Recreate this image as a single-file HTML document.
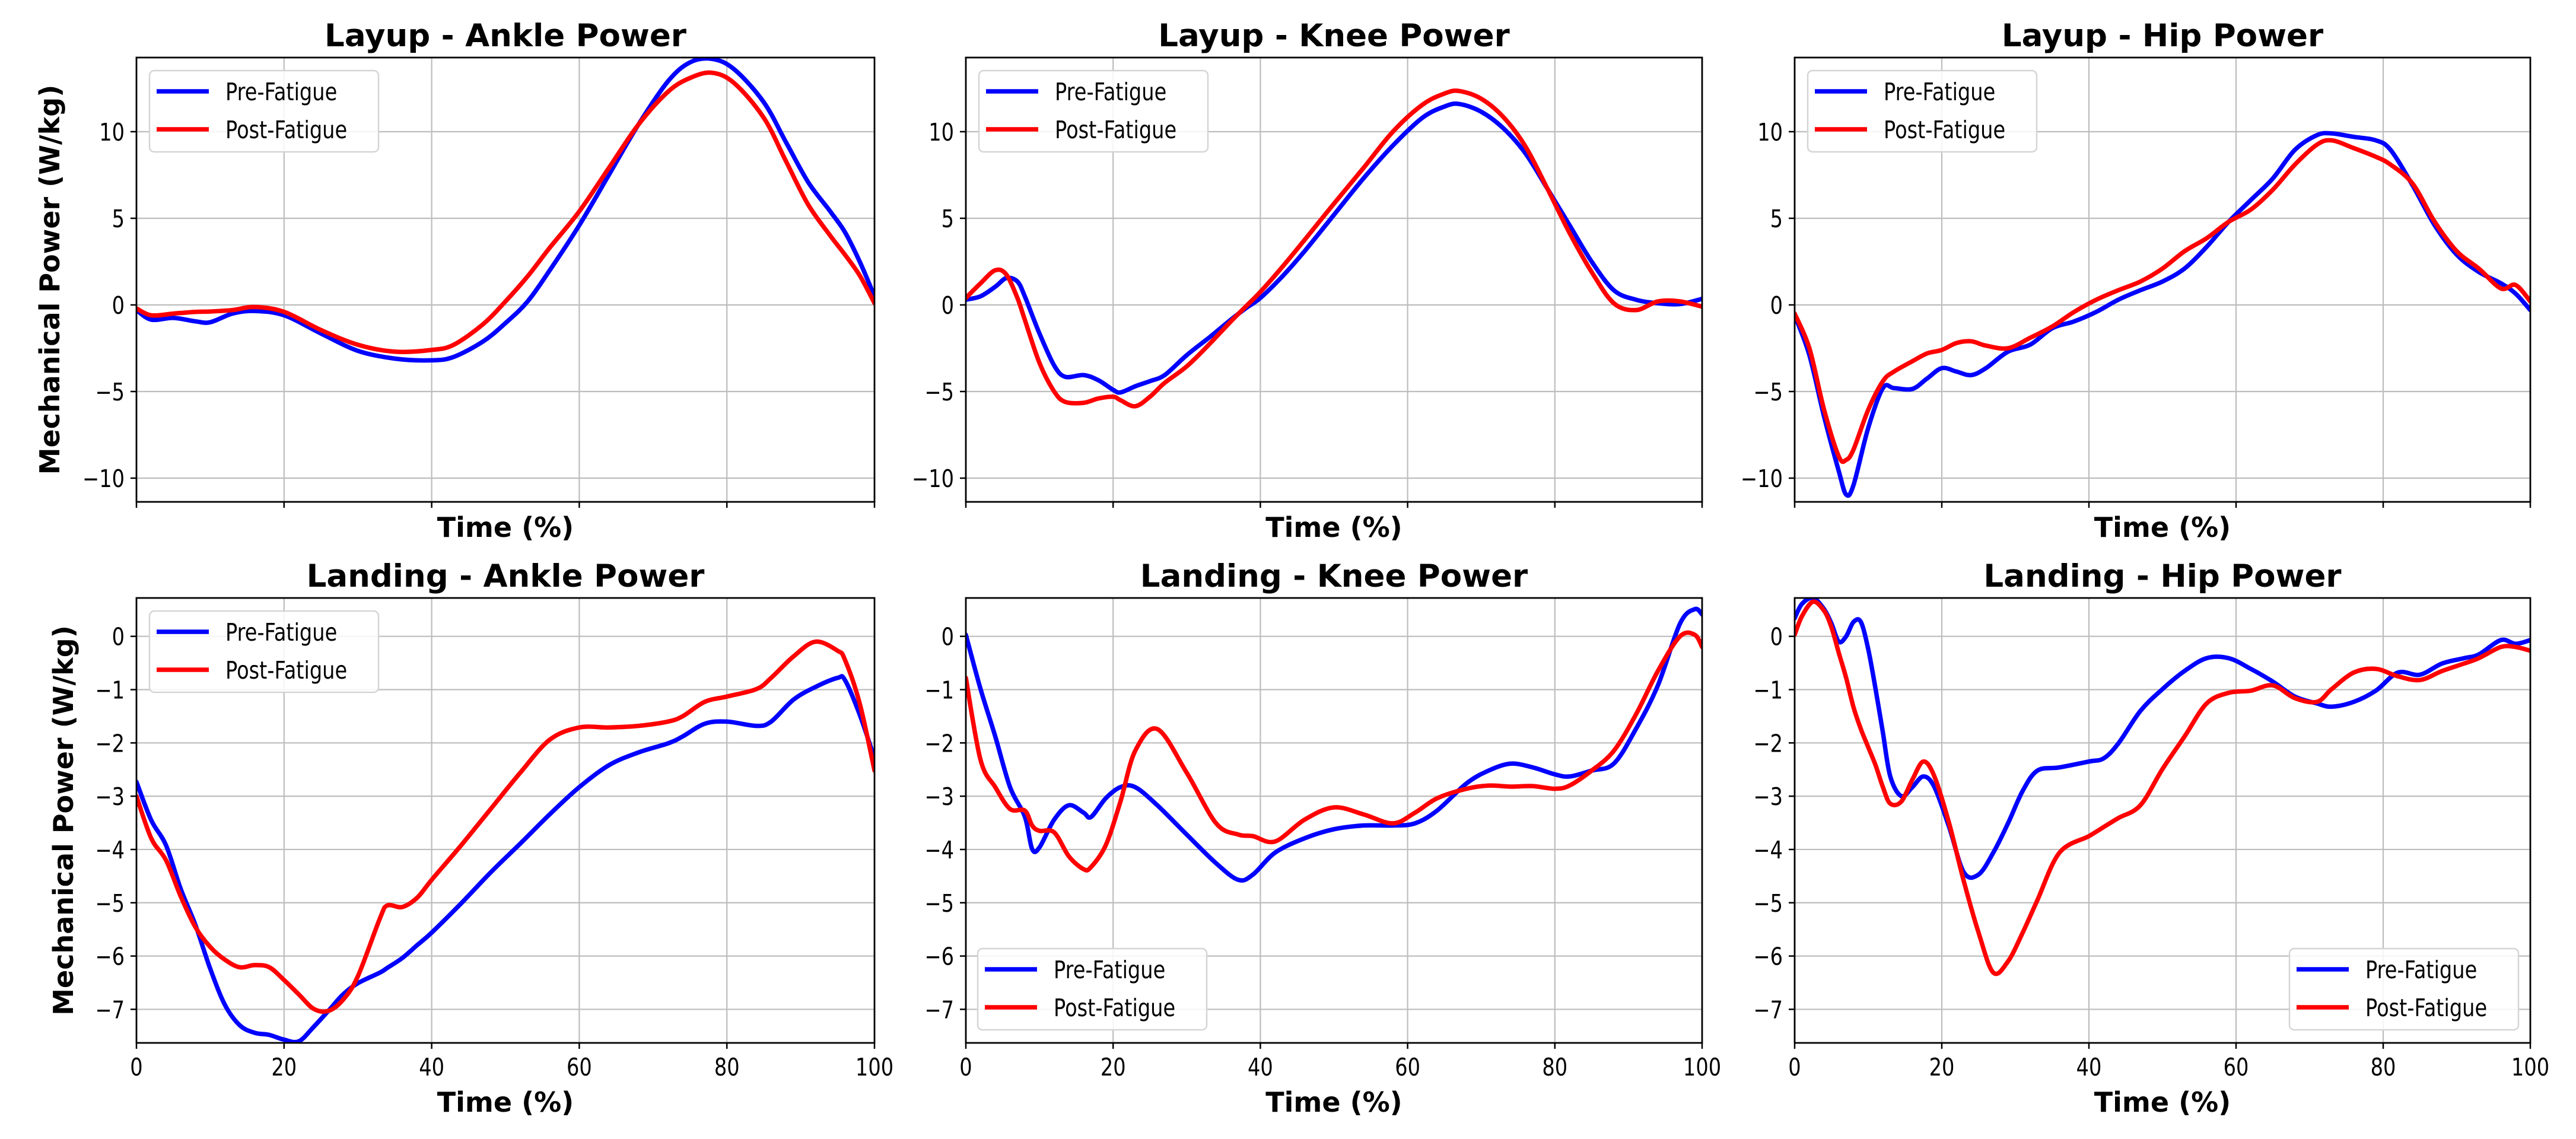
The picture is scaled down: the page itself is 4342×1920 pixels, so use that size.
<!DOCTYPE html>
<html><head><meta charset="utf-8">
<style>
html,body{margin:0;padding:0;background:#fff;}
svg{display:block;font-family:"DejaVu Sans","Liberation Sans",sans-serif;}
</style></head>
<body>
<svg id="fig" width="4342" height="1920" viewBox="0 0 4342 1920" xmlns="http://www.w3.org/2000/svg"></svg>
<script>
// ---------- DATA ----------
const xTicks = [0,20,40,60,80,100];
const yTicksTop = [-10,-5,0,5,10];
const yTicksBottom = [-7,-6,-5,-4,-3,-2,-1,0];
const seriesNames = ["Pre-Fatigue","Post-Fatigue"];

const layupAnkleTime = [0,2,5,8,10,13,16,20,25,30,35,40,43,47,50,53,56,60,64,68,72,75,78,81,85,88,91,94,96,98,100];
const layupAnklePre  = [-0.3,-0.85,-0.75,-0.95,-1.0,-0.5,-0.35,-0.6,-1.65,-2.65,-3.1,-3.2,-3.0,-2.1,-1.05,0.2,2.0,4.6,7.5,10.4,12.9,14.0,14.2,13.6,11.7,9.4,7.1,5.4,4.2,2.5,0.5];
const layupAnklePost = [-0.2,-0.6,-0.5,-0.4,-0.38,-0.3,-0.12,-0.4,-1.45,-2.3,-2.7,-2.6,-2.3,-1.1,0.2,1.65,3.3,5.4,7.9,10.4,12.3,13.1,13.4,12.8,10.8,8.3,5.8,4.0,2.9,1.7,0.1];

const layupKneeTime = [0,2,4,5.5,7,8,10,12,13.5,16,18,20,21,23,25,27,30,33,36,38,40,43,46,50,54,58,62,65,67,70,73,76,79,82,85,88,91,94,97,100];
const layupKneePre  = [0.3,0.5,1.05,1.55,1.35,0.5,-1.65,-3.5,-4.15,-4.05,-4.35,-4.9,-5.05,-4.7,-4.4,-4.05,-2.9,-1.9,-0.85,-0.2,0.4,1.65,3.1,5.2,7.3,9.2,10.8,11.45,11.6,11.15,10.2,8.75,6.7,4.6,2.5,0.85,0.3,0.1,0.05,0.35];
const layupKneePost = [0.4,1.25,2.0,1.75,0.4,-0.85,-3.35,-5.0,-5.6,-5.65,-5.4,-5.3,-5.5,-5.85,-5.3,-4.5,-3.55,-2.3,-0.95,-0.1,0.75,2.2,3.75,5.85,7.9,10.0,11.55,12.2,12.35,11.9,10.85,9.15,6.7,4.15,1.9,0.1,-0.3,0.2,0.2,-0.1];

const layupHipTime = [0,2,4,6,7,8,10,12,13.5,16,18,20,22,24,26,29,32,35,38,41,44,47,50,53,56,59,62,65,68,71,73,76,79,81,84,87,90,93,96,98,100];
const layupHipPre  = [-0.6,-2.9,-6.45,-9.6,-10.95,-10.4,-7.1,-4.8,-4.8,-4.85,-4.25,-3.65,-3.85,-4.05,-3.65,-2.7,-2.3,-1.35,-0.95,-0.4,0.3,0.85,1.35,2.1,3.35,4.8,6.05,7.3,8.95,9.8,9.9,9.7,9.5,8.95,6.9,4.6,2.9,1.9,1.25,0.65,-0.3];
const layupHipPost = [-0.5,-2.5,-6.05,-8.75,-8.95,-8.35,-6.05,-4.4,-3.85,-3.25,-2.8,-2.6,-2.2,-2.1,-2.35,-2.5,-1.9,-1.25,-0.4,0.3,0.85,1.35,2.1,3.1,3.85,4.8,5.5,6.65,8.1,9.25,9.5,9.05,8.55,8.1,7.0,4.8,3.1,2.1,0.95,1.15,0.2];

const landAnkleTime = [0,2,4,6,8,10,12,14,16,18,20,22,24,26,28,30,33,34,36,38,40,44,48,52,56,60,64,68,72,74,77,80,84,86,89,92,95,96,98,100];
const landAnklePre  = [-2.73,-3.45,-3.92,-4.74,-5.42,-6.24,-6.92,-7.3,-7.44,-7.48,-7.57,-7.6,-7.33,-7.03,-6.72,-6.51,-6.31,-6.22,-6.04,-5.8,-5.56,-5.01,-4.43,-3.89,-3.34,-2.83,-2.42,-2.18,-2.01,-1.88,-1.64,-1.6,-1.68,-1.6,-1.19,-0.95,-0.78,-0.82,-1.47,-2.29];
const landAnklePost = [-3.0,-3.79,-4.2,-4.88,-5.46,-5.83,-6.07,-6.21,-6.17,-6.21,-6.45,-6.72,-6.99,-7.03,-6.82,-6.38,-5.29,-5.05,-5.08,-4.91,-4.57,-3.92,-3.24,-2.56,-1.94,-1.71,-1.71,-1.68,-1.6,-1.5,-1.23,-1.13,-0.99,-0.78,-0.38,-0.1,-0.27,-0.44,-1.26,-2.52];

const landKneeTime = [0,2,4,6,8,9,10,12,14,16,17,19,21,23,26,30,34,37,39,42,46,50,54,58,61,64,68,71,74,77,80,82,85,88,91,94,97,99,100];
const landKneePre  = [0.03,-0.99,-1.88,-2.83,-3.38,-3.99,-3.96,-3.44,-3.17,-3.31,-3.39,-3.04,-2.83,-2.83,-3.17,-3.72,-4.26,-4.57,-4.47,-4.06,-3.79,-3.62,-3.55,-3.55,-3.51,-3.27,-2.76,-2.52,-2.39,-2.46,-2.59,-2.63,-2.52,-2.39,-1.74,-0.92,0.24,0.51,0.41];
const landKneePost = [-0.78,-2.32,-2.83,-3.24,-3.27,-3.55,-3.65,-3.68,-4.13,-4.37,-4.33,-3.92,-3.1,-2.15,-1.74,-2.56,-3.51,-3.72,-3.75,-3.85,-3.44,-3.21,-3.34,-3.51,-3.31,-3.04,-2.86,-2.8,-2.82,-2.81,-2.86,-2.8,-2.52,-2.15,-1.47,-0.65,0.0,0.03,-0.2];

const landHipTime = [0,1,2.5,4,5,6,7,8,9,10,11,12,13,14.5,16,17.5,19,21,23,25,27,29,31,33,36,40,42,44,47,50,53,56,59,62,65,68,71,73,76,79,82,85,88,91,93,96,98,100];
const landHipPre  = [0.34,0.61,0.72,0.51,0.24,-0.1,0.0,0.27,0.27,-0.24,-0.99,-1.81,-2.63,-3.0,-2.83,-2.63,-2.83,-3.58,-4.43,-4.47,-4.06,-3.51,-2.9,-2.52,-2.46,-2.35,-2.29,-2.01,-1.4,-0.99,-0.65,-0.41,-0.41,-0.61,-0.85,-1.13,-1.26,-1.32,-1.23,-1.02,-0.68,-0.72,-0.51,-0.41,-0.34,-0.07,-0.14,-0.07];
const landHipPost = [0.03,0.38,0.65,0.48,0.17,-0.31,-0.78,-1.33,-1.74,-2.08,-2.42,-2.83,-3.14,-3.1,-2.69,-2.35,-2.63,-3.51,-4.6,-5.56,-6.31,-6.1,-5.56,-4.95,-4.06,-3.75,-3.58,-3.41,-3.17,-2.49,-1.88,-1.26,-1.06,-1.02,-0.92,-1.16,-1.23,-0.99,-0.68,-0.61,-0.75,-0.82,-0.65,-0.51,-0.41,-0.2,-0.2,-0.27];

// ---------- LAYOUT ----------
const NS = "http://www.w3.org/2000/svg";
const svg = document.getElementById('fig');
const cols = [[230,1474],[1628,2869],[3025,4265]];
const rows = [{top:97,bottom:846,ymin:-11.37,ymax:14.28,ticks:yTicksTop},
              {top:1008,bottom:1758,ymin:-7.63,ymax:0.72,ticks:yTicksBottom}];
const panels = [
 {r:0,c:0,title:"Layup - Ankle Power",t:layupAnkleTime,pre:layupAnklePre,post:layupAnklePost,leg:"tl"},
 {r:0,c:1,title:"Layup - Knee Power",t:layupKneeTime,pre:layupKneePre,post:layupKneePost,leg:"tl"},
 {r:0,c:2,title:"Layup - Hip Power",t:layupHipTime,pre:layupHipPre,post:layupHipPost,leg:"tl"},
 {r:1,c:0,title:"Landing - Ankle Power",t:landAnkleTime,pre:landAnklePre,post:landAnklePost,leg:"tl"},
 {r:1,c:1,title:"Landing - Knee Power",t:landKneeTime,pre:landKneePre,post:landKneePost,leg:"bl"},
 {r:1,c:2,title:"Landing - Hip Power",t:landHipTime,pre:landHipPre,post:landHipPost,leg:"br"}
];
const SX = 0.82; // horizontal condensing of light text
function mk(tag, attrs, parent){
  const e = document.createElementNS(NS, tag);
  for (const k in attrs) e.setAttribute(k, attrs[k]);
  (parent||svg).appendChild(e);
  return e;
}
function ctext(x, y, size, anchor, parent){
  return mk('text',{x:0,y:0,'font-size':size,'text-anchor':anchor,fill:'#000',
    transform:'translate('+x+' '+y+') scale('+SX+' 1)'}, parent);
}
function smoothPath(pts){
  let d = "M"+pts[0][0].toFixed(1)+","+pts[0][1].toFixed(1);
  for (let i=0;i<pts.length-1;i++){
    const p0=pts[Math.max(i-1,0)],p1=pts[i],p2=pts[i+1],p3=pts[Math.min(i+2,pts.length-1)];
    const c1=[p1[0]+(p2[0]-p0[0])/6,p1[1]+(p2[1]-p0[1])/6];
    const c2=[p2[0]-(p3[0]-p1[0])/6,p2[1]-(p3[1]-p1[1])/6];
    d+=" C"+c1[0].toFixed(1)+","+c1[1].toFixed(1)+" "+c2[0].toFixed(1)+","+c2[1].toFixed(1)+" "+p2[0].toFixed(1)+","+p2[1].toFixed(1);
  }
  return d;
}
const fmt = v => (v<0 ? "\u2212"+Math.abs(v) : String(v));

panels.forEach((p, idx) => {
  const row = rows[p.r], [x0,x1] = cols[p.c];
  const xs = v => x0 + (v-0)/(100-0)*(x1-x0);
  const ys = v => row.bottom - (v-row.ymin)/(row.ymax-row.ymin)*(row.bottom-row.top);
  const g = mk('g',{});
  
  
  const cp = mk('clipPath',{id:'clip'+idx}, g);
  mk('rect',{x:x0,y:row.top,width:x1-x0,height:row.bottom-row.top}, cp);
  xTicks.forEach(v=>{
    const l = mk('line',{x1:xs(v),x2:xs(v),y1:row.top,y2:row.bottom,stroke:'#bdbdbd','stroke-width':2.2},g);
    
    
  });
  row.ticks.forEach(v=>{
    const l = mk('line',{x1:x0,x2:x1,y1:ys(v),y2:ys(v),stroke:'#bdbdbd','stroke-width':2.2},g);
    
    
  });
  [[p.pre,'#0000ff','pre-fatigue-line'],[p.post,'#ff0000','post-fatigue-line']].forEach(([vals,col,nm])=>{
    const pts = vals.map((v,i)=>[xs(p.t[i]), ys(v)]);
    const path = mk('path',{d:smoothPath(pts),fill:'none',stroke:col,'stroke-width':7.5,'stroke-linejoin':'round','stroke-linecap':'round','clip-path':'url(#clip'+idx+')'},g);
    
    
  });
  const sp = mk('rect',{x:x0,y:row.top,width:x1-x0,height:row.bottom-row.top,fill:'none',stroke:'#000','stroke-width':2.8},g);
  
  
  xTicks.forEach(v=>{
    mk('line',{x1:xs(v),x2:xs(v),y1:row.bottom,y2:row.bottom+10,stroke:'#000','stroke-width':2.5},g);
    if (p.r===1){
      const t = ctext(xs(v), row.bottom+55, 41, 'middle', g);
      t.textContent = fmt(v);
      
      
    }
  });
  row.ticks.forEach(v=>{
    mk('line',{x1:x0-10,x2:x0,y1:ys(v),y2:ys(v),stroke:'#000','stroke-width':2.5},g);
    const t = ctext(x0-20, ys(v)+15, 41, 'end', g);
    t.textContent = fmt(v);
    
    
  });
  const tt = mk('text',{x:(x0+x1)/2,y:row.top-19,'font-size':53,'font-weight':'bold','text-anchor':'middle',fill:'#000'},g);
  tt.textContent = p.title;
  
  
  const xl = mk('text',{x:(x0+x1)/2,y:row.bottom+(p.r===0?59:116),'font-size':46,'font-weight':'bold','text-anchor':'middle',fill:'#000'},g);
  xl.textContent = "Time (%)";
  
  
  if (p.c===0){
    const cx = p.r===0 ? 84 : 107, cy = (row.top+row.bottom)/2;
    const yl = mk('text',{x:cx,y:cy,'font-size':46,'font-weight':'bold','text-anchor':'middle','dominant-baseline':'central',fill:'#000',transform:'rotate(-90 '+cx+' '+cy+')'},g);
    yl.textContent = "Mechanical Power (W/kg)";
    
    
  }
  const lw = 386, lh = 137;
  let lx, ly;
  if (p.leg==='tl'){ lx = x0+22; ly = row.top+22; }
  else if (p.leg==='bl'){ lx = x0+20; ly = row.bottom-22-lh; }
  else { lx = x1-20-lw; ly = row.bottom-22-lh; }
  const lg = mk('g',{},g);
  
  
  mk('rect',{x:lx,y:ly,width:lw,height:lh,rx:8,fill:'#fff','fill-opacity':0.85,stroke:'#d5d5d5','stroke-width':2.5},lg);
  [['#0000ff',seriesNames[0]],['#ff0000',seriesNames[1]]].forEach(([col,lab],i)=>{
    const yy = ly+35+i*64;
    const e = mk('g',{},lg);
    
    
    mk('line',{x1:lx+12,x2:lx+100,y1:yy,y2:yy,stroke:col,'stroke-width':7.5},e);
    const t = ctext(lx+128, yy+15, 41, 'start', e);
    t.textContent = lab;
  });
});
</script>
</body></html>
